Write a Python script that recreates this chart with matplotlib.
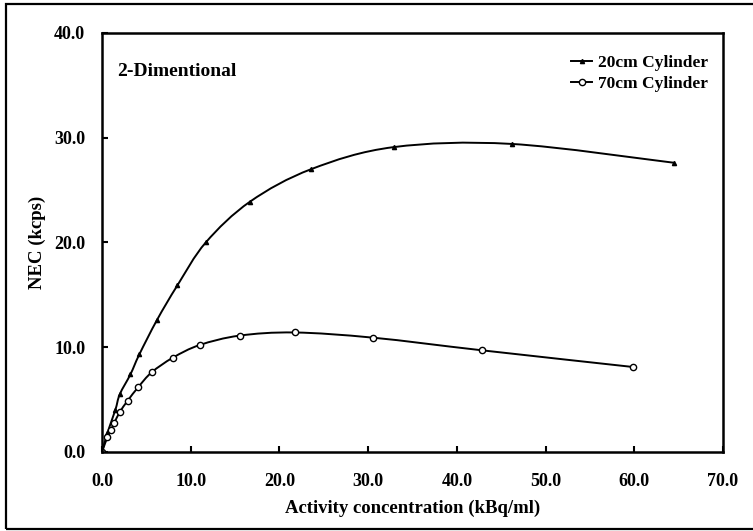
"""NEC versus activity concentration for two cylinder phantoms (2D mode)."""
import numpy as np
import matplotlib.pyplot as plt
from matplotlib.lines import Line2D
from matplotlib.patches import PathPatch, Rectangle
from matplotlib.path import Path

# 20 cm cylinder
act_20 = [0.0, 0.6, 1.5, 2.0, 3.2, 4.2, 6.2, 8.5, 11.7, 16.7, 23.6, 32.9, 46.2, 64.5]
nec_20 = [0.0, 1.8, 4.0, 5.5, 7.4, 9.3, 12.6, 15.9, 20.0, 23.9, 27.0, 29.1, 29.4, 27.6]

# 70 cm cylinder
act_70 = [0.0, 0.6, 1.0, 1.4, 2.0, 2.9, 4.1, 5.6, 8.0, 11.0, 15.5, 21.7, 30.6, 42.8, 59.9]
nec_70 = [0.0, 1.4, 2.1, 2.8, 3.8, 4.9, 6.2, 7.6, 9.0, 10.2, 11.1, 11.4, 10.9, 9.7, 8.1]

x_ticks = [0, 10, 20, 30, 40, 50, 60, 70]
y_ticks = [0, 10, 20, 30, 40]

font = {"family": "Liberation Serif", "weight": "bold"}


def smooth_path(ax, xs, ys, **kw):
    """Spreadsheet-style smoothed line: cubic Bezier segments through the points."""
    pts = ax.transData.transform(np.column_stack([xs, ys]))
    verts = [pts[0]]
    codes = [Path.MOVETO]
    n = len(pts)
    for i in range(n - 1):
        p0 = pts[max(i - 1, 0)]
        p1 = pts[i]
        p2 = pts[i + 1]
        p3 = pts[min(i + 2, n - 1)]
        c1 = p1 + (p2 - p0) / 6.0
        c2 = p2 - (p3 - p1) / 6.0
        verts += [c1, c2, p2]
        codes += [Path.CURVE4] * 3
    path = Path(ax.transData.inverted().transform(np.array(verts)), codes)
    ax.add_patch(PathPatch(path, fill=False, **kw))


fig = plt.figure(figsize=(7.53, 5.31), dpi=100)
ax = fig.add_axes([0.1355, 0.149, 0.8247, 0.789])
ax.set_xlim(0, 70)
ax.set_ylim(0, 40)

smooth_path(ax, act_20, nec_20, edgecolor="black", lw=1.4)
smooth_path(ax, act_70, nec_70, edgecolor="black", lw=1.4)
ax.plot(act_20, nec_20, ls="none", marker="^", ms=3, mfc="black", mec="black")
ax.plot(act_70, nec_70, ls="none", marker="o", ms=4.5, mfc="white",
        mec="black", mew=1.0)

ax.set_xticks(x_ticks)
ax.set_yticks(y_ticks)
ax.set_xticklabels([f"{v:.1f}" for v in x_ticks], **font, fontsize=13)
ax.set_yticklabels([f"{v:.1f}" for v in y_ticks], **font, fontsize=13)
ax.tick_params(direction="in", length=4, width=1.5)
ax.tick_params(axis="x", pad=15)
ax.tick_params(axis="y", pad=12)
for sp in ax.spines.values():
    sp.set_linewidth(1.8)

ax.set_xlabel("Activity concentration (kBq/ml)", fontdict=font, fontsize=13.5,
              labelpad=7)
ax.set_ylabel("NEC (kcps)", fontdict=font, fontsize=13.5, labelpad=6)

ax.text(1.7, 36.3, "2-Dimentional", fontdict=font, fontsize=14, va="center")

handles = [
    Line2D([], [], color="black", lw=1.4, marker="^", ms=3, mfc="black"),
    Line2D([], [], color="black", lw=1.4, marker="o", ms=4.5, mfc="white", mew=1.0),
]
ax.legend(handles, ["20cm Cylinder", "70cm Cylinder"], loc="upper right",
          bbox_to_anchor=(1.003, 0.99), frameon=False, handlelength=1.2,
          handletextpad=0.3, labelspacing=0.3, borderaxespad=0.6,
          prop={"family": "Liberation Serif", "weight": "bold", "size": 12.5})

# outer border around the figure
fig.patches.append(Rectangle((6 / 753, 2 / 531), 760 / 753, 525 / 531,
                             transform=fig.transFigure, fill=False,
                             edgecolor="black", lw=1.6))

fig.savefig("out.png", dpi=100)
